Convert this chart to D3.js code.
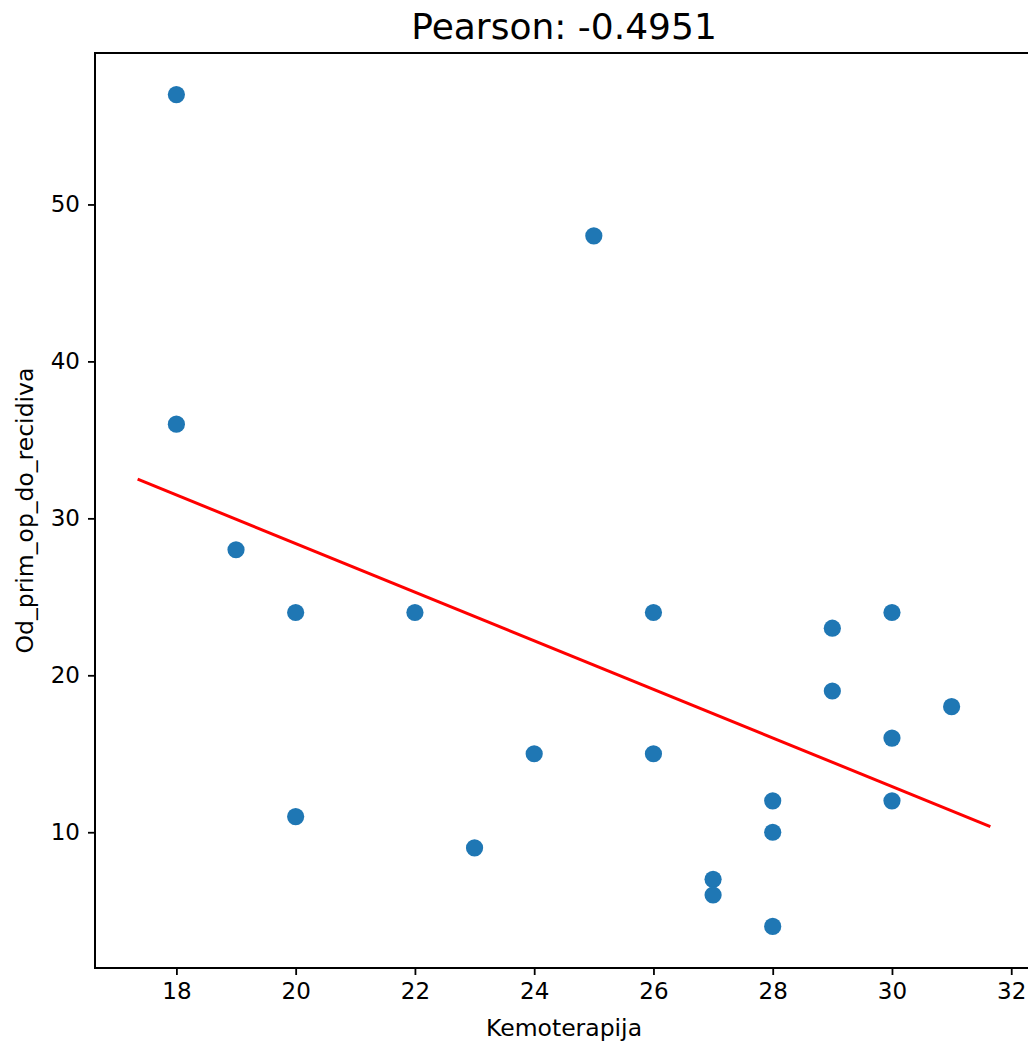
<!doctype html>
<html lang="en">
<head>
<meta charset="utf-8">
<title>Pearson scatter</title>
<style>
html, body {
	margin: 0;
	padding: 0;
	background: #fff;
	overflow: hidden;
}
svg text {
	font-family: 'DejaVu Sans', sans-serif;
	fill: #000;
}
</style>
</head>
<body>
<div id="chart"></div>
<script src="https://cdnjs.cloudflare.com/ajax/libs/d3/7.8.5/d3.min.js"></script>
<script>
// data
var kemoterapija = [18, 18, 19, 20, 20, 22, 23, 24, 25, 26, 26, 27, 27, 28, 28, 28, 29, 29, 30, 30, 30, 31];
var recidiva     = [57, 36, 28, 24, 11, 24,  9, 15, 48, 24, 15,  7,  6, 12, 10,  4, 23, 19, 24, 16, 12, 18];
var xTicks = [18, 20, 22, 24, 26, 28, 30, 32];
var yTicks = [10, 20, 30, 40, 50];
var xLim = [16.635, 32.365];
var yLim = [1.35, 59.65];
var fitRange = [17.35, 31.65]; // line spans the old x limits
var titleText = 'Pearson: -0.4951';

var W = 1028, H = 1044;
var box = { left: 95, top: 53, right: 1033, bottom: 968 };

var svg = d3.select('#chart').append('svg')
	.attr('width', W)
	.attr('height', H);

var x = d3.scaleLinear().domain(xLim).range([box.left, box.right]);
var y = d3.scaleLinear().domain(yLim).range([box.bottom, box.top]);

// least squares fit
var n = kemoterapija.length;
var mx = d3.mean(kemoterapija), my = d3.mean(recidiva);
var sxy = 0, sxx = 0;
for (var i = 0; i < n; i++) {
	sxy += (kemoterapija[i] - mx) * (recidiva[i] - my);
	sxx += (kemoterapija[i] - mx) * (kemoterapija[i] - mx);
}
var slope = sxy / sxx;
var icpt = my - slope * mx;

// points
svg.append('g').selectAll('circle')
	.data(d3.range(n))
	.enter().append('circle')
	.attr('cx', function (d) { return x(kemoterapija[d]); })
	.attr('cy', function (d) { return y(recidiva[d]); })
	.attr('r', 8.6)
	.attr('fill', '#1f77b4');

// regression line
svg.append('line')
	.attr('x1', x(fitRange[0])).attr('y1', y(icpt + slope * fitRange[0]))
	.attr('x2', x(fitRange[1])).attr('y2', y(icpt + slope * fitRange[1]))
	.attr('stroke', '#ff0000')
	.attr('stroke-width', 3);

// axes
var xAxis = d3.axisBottom(x).tickValues(xTicks).tickSize(7).tickPadding(8).tickFormat(d3.format('d'));
var yAxis = d3.axisLeft(y).tickValues(yTicks).tickSize(7).tickPadding(8).tickFormat(d3.format('d'));

var gx = svg.append('g').attr('transform', 'translate(0,' + box.bottom + ')').call(xAxis);
var gy = svg.append('g').attr('transform', 'translate(' + box.left + ',0)').call(yAxis);

[gx, gy].forEach(function (g) {
	g.select('.domain').remove();
	g.selectAll('.tick line').attr('stroke', '#000').attr('stroke-width', 1.8);
	g.selectAll('.tick text').attr('font-size', 23).attr('font-family', 'DejaVu Sans').attr('fill', '#000');
});

// spines
svg.append('rect')
	.attr('x', box.left).attr('y', box.top)
	.attr('width', box.right - box.left).attr('height', box.bottom - box.top)
	.attr('fill', 'none')
	.attr('stroke', '#000')
	.attr('stroke-width', 2);

// labels
svg.append('text')
	.attr('x', (box.left + box.right) / 2)
	.attr('y', 39)
	.attr('text-anchor', 'middle')
	.attr('font-size', 36)
	.text(titleText);

svg.append('text')
	.attr('x', (box.left + box.right) / 2)
	.attr('y', 1036)
	.attr('text-anchor', 'middle')
	.attr('font-size', 23.5)
	.text('Kemoterapija');

svg.append('text')
	.attr('transform', 'translate(33,' + ((box.top + box.bottom) / 2) + ') rotate(-90)')
	.attr('text-anchor', 'middle')
	.attr('font-size', 23.5)
	.text('Od_prim_op_do_recidiva');
</script>
</body>
</html>
